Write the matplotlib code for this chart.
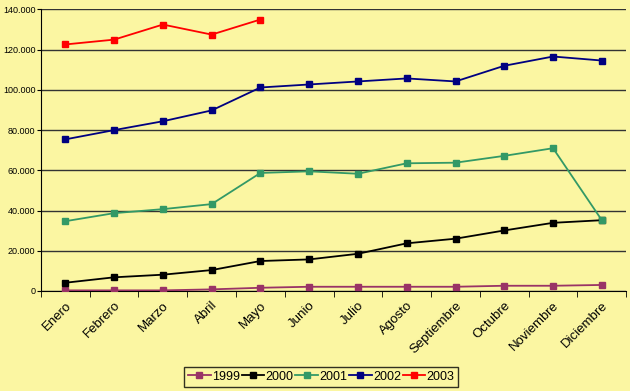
import numpy as np
import matplotlib.pyplot as plt
from matplotlib.ticker import FuncFormatter

plt.rcParams['font.family'] = ['Liberation Sans', 'DejaVu Sans']

meses = ['Enero', 'Febrero', 'Marzo', 'Abril', 'Mayo', 'Junio', 'Julio',
         'Agosto', 'Septiembre', 'Octubre', 'Noviembre', 'Diciembre']

v1999 = [300, 300, 300, 800, 1600, 2100, 2100, 2100, 2100, 2600, 2600, 3000]
v2000 = [4100, 6800, 8100, 10400, 14900, 15700, 18500, 23700, 26000, 30100, 33900, 35200]
v2001 = [34700, 38700, 40700, 43200, 58700, 59500, 58300, 63500, 63800, 67200, 71000, 35200]
v2002 = [75400, 80000, 84400, 89800, 101200, 102700, 104200, 105700, 104200, 112000, 116600, 114600]
v2003 = [122600, 125000, 132500, 127500, 135000]

series = [('1999', v1999, '#993366'),
          ('2000', v2000, '#000000'),
          ('2001', v2001, '#339966'),
          ('2002', v2002, '#000080'),
          ('2003', v2003, '#ff0000')]

bg = '#fbf6a2'
fig = plt.figure(figsize=(6.3, 3.91), dpi=100, facecolor=bg)
ax = fig.add_axes([0.065, 0.2558, 0.929, 0.72])
ax.set_facecolor(bg)

x = np.arange(len(meses))
for name, vals, col in series:
    ax.plot(x[:len(vals)], vals, color=col, lw=1.3, marker='s', ms=5,
            mfc=col, mec=col, label=name, zorder=3)

ax.set_xlim(-0.5, 11.5)
ax.set_ylim(0, 140000)
ax.set_yticks(np.arange(0, 140001, 20000))
ax.yaxis.set_major_formatter(FuncFormatter(lambda v, p: f'{int(v):,}'.replace(',', '.')))
ax.grid(axis='y', color='#333333', lw=1.0, zorder=1)

ax.set_xticks(x)
ax.set_xticklabels(meses, rotation=45, ha='right', rotation_mode='anchor', fontsize=9.5)
ax.set_xticks(np.arange(-0.5, 12, 1), minor=True)
ax.tick_params(axis='x', which='major', length=0, pad=6)
ax.tick_params(axis='x', which='minor', length=4, direction='out', color='black')
ax.tick_params(axis='y', labelsize=6.5, length=3, pad=1, direction='out')

for s in ['top', 'right']:
    ax.spines[s].set_visible(False)
ax.spines['left'].set_color('black')
ax.spines['bottom'].set_color('black')

leg = fig.legend(loc='lower center', bbox_to_anchor=(0.51, 0.005), ncol=5,
                 fontsize=9, frameon=True, fancybox=False, handlelength=1.8,
                 handletextpad=0.1, columnspacing=0.15, borderpad=0.3,
                 borderaxespad=0.2, markerscale=0.8)
leg.get_frame().set_edgecolor('black')
leg.get_frame().set_facecolor(bg)
leg.get_frame().set_linewidth(1.0)

fig.savefig('out.png', dpi=100, facecolor=bg)
